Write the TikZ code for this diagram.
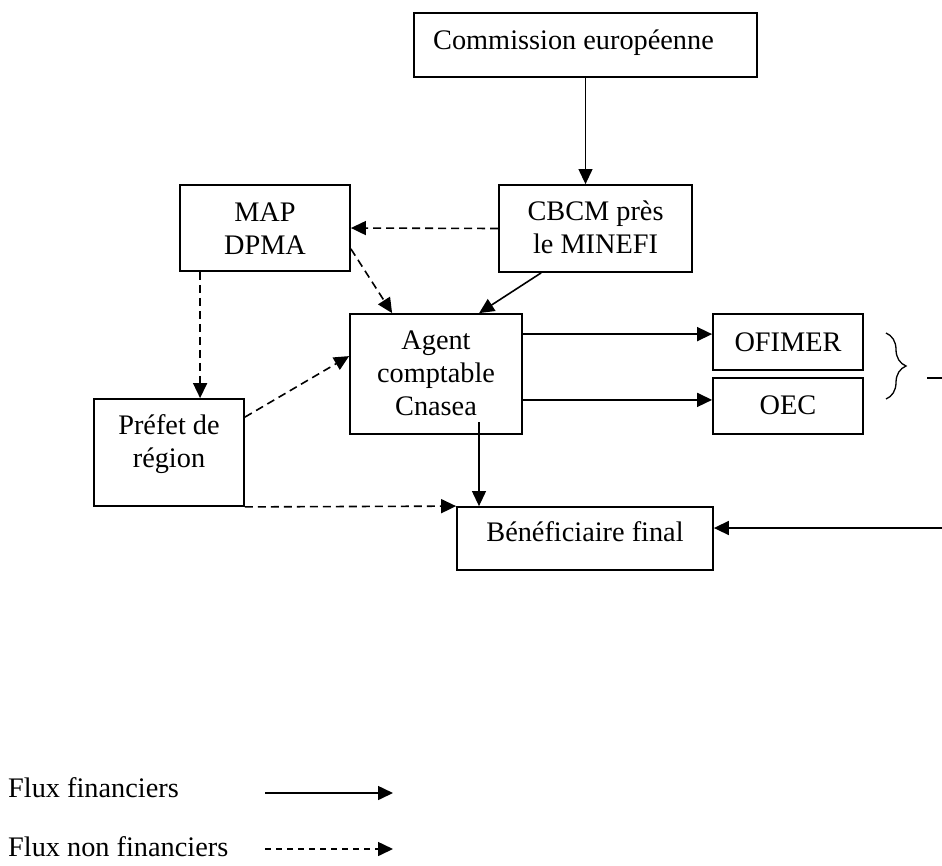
\documentclass[tikz,border=0pt]{standalone}
\usepackage{fontspec}
\setmainfont{Liberation Serif}
\usetikzlibrary{arrows.meta,decorations.pathreplacing}
\begin{document}
\begin{tikzpicture}[x=1pt,y=-1pt,
  box/.style={draw,line width=1.8pt,inner sep=0pt,rectangle},
  txt/.style={inner sep=0pt,anchor=base,font=\fontsize{28.3}{32.5}\selectfont},
  tip/.style={-{Triangle[length=15pt 0 0,width=14pt 0 0]}},
  fin/.style={tip,line width=1.6pt},
  finthin/.style={tip,line width=1.1pt},
  nonfin/.style={tip,line width=1.6pt,dash pattern=on 8pt off 5pt},
]
\useasboundingbox (0,0) rectangle (942,865);
% boxes
\node[box,minimum width=343pt,minimum height=64pt] (comm) at (585.5,45) {};
\node[box,minimum width=193pt,minimum height=87pt] (cbcm) at (595.5,228.5) {};
\node[box,minimum width=170pt,minimum height=86pt] (map) at (265,228) {};
\node[box,minimum width=172pt,minimum height=120pt] (agent) at (436,374) {};
\node[box,minimum width=150pt,minimum height=56pt] (ofimer) at (788,342) {};
\node[box,minimum width=150pt,minimum height=56pt] (oec) at (788,406) {};
\node[box,minimum width=150pt,minimum height=107pt] (prefet) at (169,452.5) {};
\node[box,minimum width=256pt,minimum height=63pt] (benef) at (585,538.5) {};
% texts
\node[txt,anchor=base west] (commT) at (433,49) {Commission européenne};
\node[txt] (cbcmT1) at (595.5,220) {CBCM près};
\node[txt] (cbcmT2) at (595.5,253) {le MINEFI};
\node[txt] (mapT1) at (265,221) {MAP};
\node[txt] (mapT2) at (265,254) {DPMA};
\node[txt] (agentT1) at (436,349) {Agent};
\node[txt] (agentT2) at (436,382) {comptable};
\node[txt] (agentT3) at (436,415) {Cnasea};
\node[txt] (ofimerT) at (788,351) {OFIMER};
\node[txt] (oecT) at (788,414) {OEC};
\node[txt] (prefetT1) at (169,434) {Préfet de};
\node[txt] (prefetT2) at (169,467) {région};
\node[txt] (benefT) at (585,541) {Bénéficiaire final};
% connectors
\draw[finthin] (comm.south) -- (comm.south |- cbcm.north);
\draw[nonfin] (cbcm.west) -- (map.east);
\draw[fin] ([xshift=43pt]cbcm.south west) -- ([xshift=130pt]agent.north west);
\draw[nonfin] ([yshift=23pt]map.south east) -- ([xshift=43pt]agent.north west);
\draw[nonfin] ([xshift=21pt]map.south west) -- ([xshift=21pt]map.south west |- prefet.north);
\draw[nonfin] ([yshift=-19pt]prefet.north east) -- ([yshift=-43pt]agent.north west);
\draw[nonfin] (prefet.south east) -- (benef.north west);
\coordinate (agentOut) at (479,422);
\draw[finthin] (agentOut) -- (agentOut |- benef.north);
\draw[fin] ([yshift=-21pt]agent.north east) -- ([yshift=-21pt]agent.north east -| ofimer.west);
\draw[fin] ([yshift=35pt]agent.south east) -- ([yshift=35pt]agent.south east -| oec.west);
\coordinate (rin) at (942,528);
\draw[fin] (rin) -- (rin -| benef.east);
% brace and dash
\coordinate (brA) at (886,333);
\coordinate (brB) at (886,399);
\draw[line width=1.3pt,decorate,decoration={brace,amplitude=20pt}] (brA) -- (brB);
\coordinate (dA) at (927,378);
\coordinate (dB) at (942,378);
\draw[line width=1.3pt] (dA) -- (dB);
% legend
\node[txt,anchor=base west] (leg1) at (8,797) {Flux financiers};
\node[txt,anchor=base west] (leg2) at (8,856) {Flux non financiers};
\coordinate (l1a) at (265,793);
\coordinate (l1b) at (393,793);
\coordinate (l2a) at (265,849);
\coordinate (l2b) at (393,849);
\draw[fin] (l1a) -- (l1b);
\draw[tip,line width=1.6pt,dash pattern=on 6pt off 5pt] (l2a) -- (l2b);
\end{tikzpicture}
\end{document}
